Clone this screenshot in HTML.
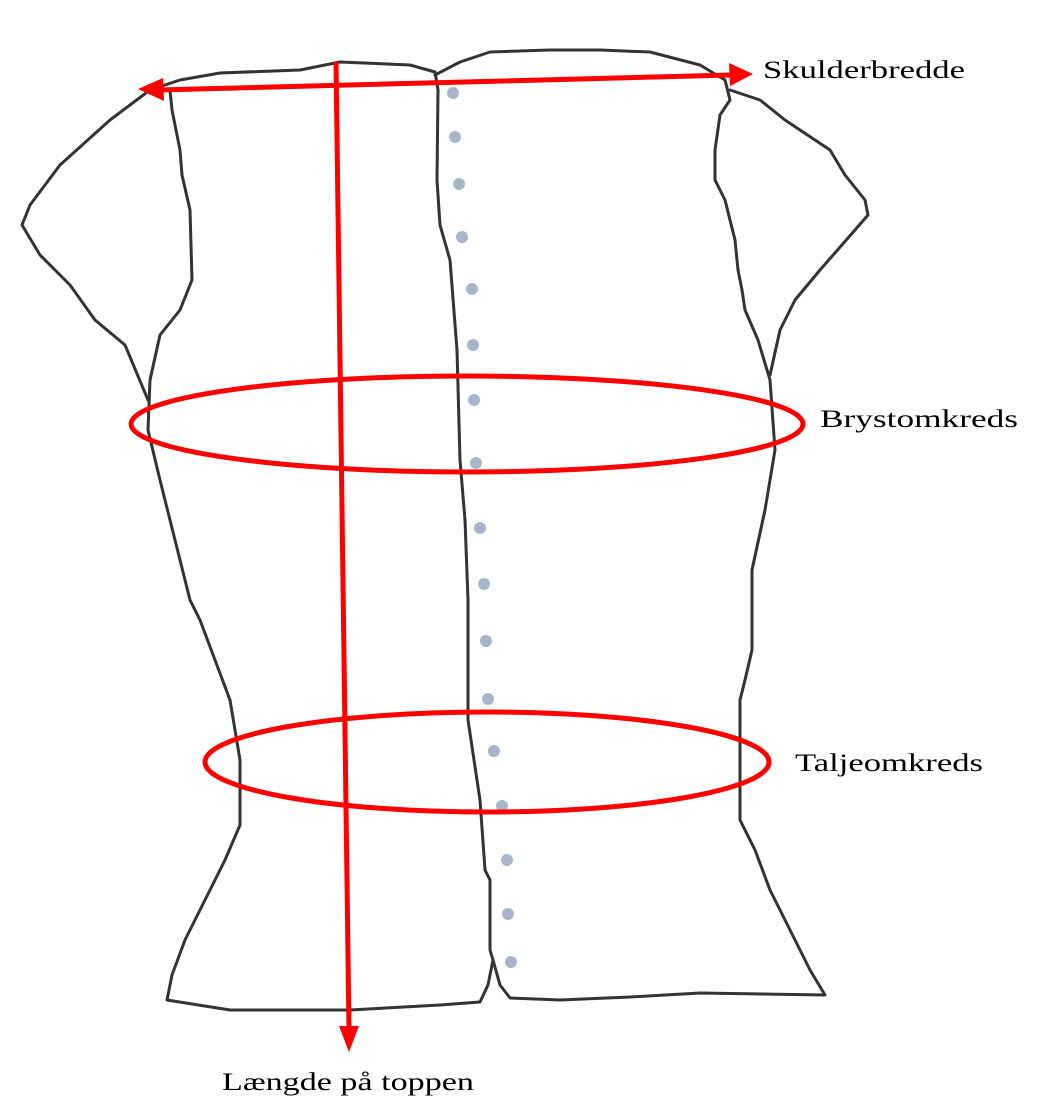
<!DOCTYPE html>
<html><head><meta charset="utf-8"><style>html,body{margin:0;padding:0;background:#fff}svg{display:block}</style></head>
<body>
<svg width="1042" height="1118" viewBox="0 0 1042 1118" xmlns="http://www.w3.org/2000/svg">
<g fill="none" stroke="#333" stroke-width="3" stroke-linejoin="round" stroke-linecap="round">
<path d="M435,72 L410,65 L340,62 L300,70 L220,73 L180,80 L150,90 L110,120 L60,165 L30,205 L22,225 L40,255 L70,285 L95,320 L125,345 L148,400"/>
<path d="M170,90 L172,110 L180,150 L182,175 L190,210 L192,280 L180,310 L160,335 L150,380 L148,430 L160,480 L175,540 L185,580 L190,600 L200,620 L215,660 L230,700 L240,760 L240,825 L225,860 L210,890 L185,940 L172,975 L167,1000 L230,1010 L350,1010 L440,1005 L480,1002 L488,985 L493,960"/>
<path d="M435,72 L438,90 L437,180 L440,225 L450,260 L457,350 L460,460 L465,520 L468,600 L468,720 L480,800 L485,870 L490,880 L490,950 L493,960"/>
<path d="M435,75 L460,62 L490,52 L550,50 L600,50 L650,52 L700,65 L725,80 L730,100 L720,115 L715,150 L715,180 L725,200 L735,240 L738,270 L742,290 L745,310 L758,340 L770,380 L775,450 L765,510 L752,570 L752,650 L745,680 L740,700 L740,820 L755,850 L770,890 L790,930 L810,970 L825,995 L700,993 L630,997 L560,1000 L510,998 L500,985 L493,960"/>
<path d="M730,90 L760,100 L785,120 L830,150 L845,175 L865,200 L868,215 L855,230 L820,270 L795,300 L780,330 L770,375"/>
</g>
<g fill="#a9b5c9">
<circle cx="453" cy="93" r="6"/><circle cx="455" cy="137" r="6"/><circle cx="459" cy="184" r="6"/><circle cx="462" cy="237" r="6"/><circle cx="472" cy="289" r="6"/><circle cx="473" cy="345" r="6"/><circle cx="474" cy="400" r="6"/><circle cx="476" cy="463" r="6"/><circle cx="480" cy="528" r="6"/><circle cx="484" cy="584" r="6"/><circle cx="486" cy="641" r="6"/><circle cx="488" cy="699" r="6"/><circle cx="494" cy="751" r="6"/><circle cx="502" cy="806" r="6"/><circle cx="507" cy="860" r="6"/><circle cx="508" cy="914" r="6"/><circle cx="511" cy="962" r="6"/>
</g>
<g stroke="#f00" stroke-width="5" fill="none">
<line x1="158" y1="90" x2="732" y2="75"/>
<line x1="336" y1="62" x2="349" y2="1030"/>
<ellipse cx="467" cy="424" rx="336" ry="48"/>
<ellipse cx="487" cy="762" rx="282" ry="50"/>
</g>
<g fill="#f00">
<polygon points="138,89 163,78 164,101"/>
<polygon points="753,74 729,63 730,86"/>
<polygon points="349,1052 339,1026 359,1026"/>
</g>
<g font-family="'Liberation Serif', serif" font-size="25" fill="#000">
<text x="763" y="78" textLength="202" lengthAdjust="spacingAndGlyphs">Skulderbredde</text>
<text x="820" y="427" textLength="198" lengthAdjust="spacingAndGlyphs">Brystomkreds</text>
<text x="795" y="771" textLength="188" lengthAdjust="spacingAndGlyphs">Taljeomkreds</text>
<text x="222" y="1090" textLength="252" lengthAdjust="spacingAndGlyphs">Længde på toppen</text>
</g>
</svg>
</body></html>
